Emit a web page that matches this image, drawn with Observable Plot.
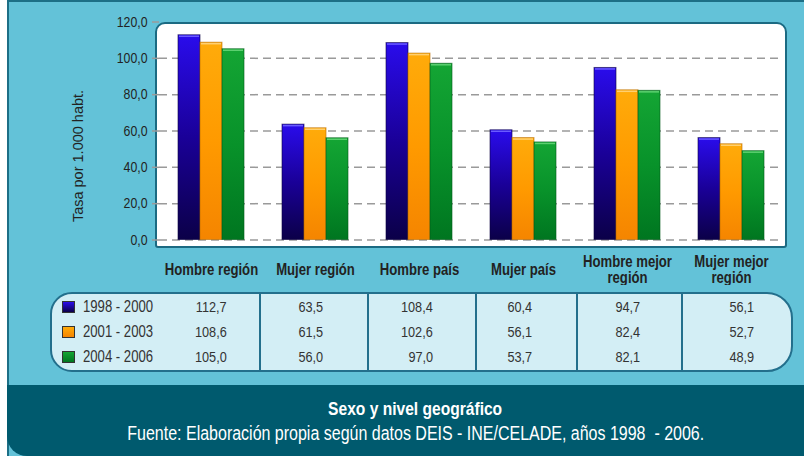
<!DOCTYPE html>
<html><head><meta charset="utf-8">
<script src="https://cdn.jsdelivr.net/npm/d3@7"></script>
<script src="https://cdn.jsdelivr.net/npm/@observablehq/plot@0.6"></script>
<style>
html,body{margin:0;padding:0;background:#fff;}
#wrap{position:relative;width:804px;height:456px;overflow:hidden;font-family:"Liberation Sans",Arial,sans-serif;color:#222;}
#panel{position:absolute;left:7px;top:0;width:797px;height:456px;background:#63c2d8;border-left:2px solid #1d6f86;border-top:2px solid #1d6f86;box-sizing:border-box;}
#box{position:absolute;left:155px;top:22px;width:632px;height:226px;background:#fff;border:2px solid #1b6a82;border-radius:10px 10px 3px 3px;box-sizing:border-box;}
#chart{position:absolute;left:0;top:0;}
#ylab{position:absolute;left:78px;top:156px;transform:translate(-50%,-50%) rotate(-90deg);font-size:14.5px;color:#222;white-space:nowrap;}
#tbl{position:absolute;left:50px;top:292px;width:743px;height:80px;border:2px solid #236f8c;border-radius:22px 26px 26px 22px;background:#d3eef5;box-sizing:border-box;overflow:hidden;}
#tbl table{width:100%;height:100%;border-collapse:collapse;table-layout:fixed;font-size:15.5px;color:#333;}
#tbl td{padding:0;text-align:right;white-space:nowrap;}
#tbl td.sep{border-left:2px solid #236f8c;}
#tbl td.leg{text-align:left;padding-left:10px;}
.sw{display:inline-block;width:11px;height:10px;border:1px solid #333;vertical-align:-1px;margin-right:8px;}
.nar{display:inline-block;transform:scaleX(0.82);}
.nr{transform-origin:right center;}
.nl{transform-origin:left center;}
.nc{transform-origin:center center;}
#footer{position:absolute;left:7px;top:385px;width:797px;height:71px;background:#005a6e;border-bottom-left-radius:20px;color:#fff;text-align:center;}
#ftitle{position:absolute;left:10px;width:797px;top:13px;font-size:19px;font-weight:bold;line-height:22px;}
#fsrc{position:absolute;left:10px;width:797px;top:37px;font-size:19.5px;line-height:22px;white-space:pre;}
</style></head>
<body>
<div id="wrap">
  <div id="panel"></div>
  <div id="box"></div>
  <div id="chart"></div>
  <div id="ylab"></div>
  <div id="tbl"></div>
  <div id="footer"><div id="ftitle"></div><div id="fsrc"></div></div>
</div>
<script>
const categories = ["Hombre región","Mujer región","Hombre país","Mujer país","Hombre mejor región","Mujer mejor región"];
const categoryLabels = ["Hombre región","Mujer región","Hombre país","Mujer país","Hombre mejor\nregión","Mujer mejor\nregión"];
const periods = ["1998 - 2000","2001 - 2003","2004 - 2006"];
const v1998_2000 = [112.7,63.5,108.4,60.4,94.7,56.1];
const v2001_2003 = [108.6,61.5,102.6,56.1,82.4,52.7];
const v2004_2006 = [105.0,56.0,97.0,53.7,82.1,48.9];
const yTicks = [0,20,40,60,80,100,120];
const gridTicks = [0,20,40,60,80,100];
const yTitle = "Tasa por 1.000 habt.";
const chartTitle = "Sexo y nivel geográfico";
const source = "Fuente: Elaboración propia según datos DEIS - INE/CELADE, años 1998  - 2006.";

const series = [v1998_2000, v2001_2003, v2004_2006];
const gradIds = ["gB","gO","gG"];
const gradStops = [["#2a0cec","#1a0098","#0b0048"],["#ffab0a","#ff9a00","#f58500"],["#14a534","#08922a","#007620"]];
const edgeColors = ["#0a0040","#b86a00","#005c18"];
const topColors = ["#6a5cff","#ffd070","#5cd070"];

const rows = categories.flatMap((c,i)=>periods.map((p,k)=>({cat:c, period:p, value:series[k][i], k})));
const fmt = v => v.toFixed(1).replace(".", ",");
const FONT = '"Liberation Sans",Arial,sans-serif';
const NARROW = 0.82;

const barMarks = periods.flatMap((p,k)=>{
  const data = rows.filter(r=>r.k===k);
  return [
    Plot.barY(data, {fx:"cat", x:"period", y:"value", fill:`url(#${gradIds[k]})`, stroke:edgeColors[k], strokeWidth:1, strokeOpacity:0.6}),
    Plot.tickY(data, {fx:"cat", x:"period", y:"value", stroke:topColors[k], strokeWidth:1.5, insetLeft:1, insetRight:1, dy:1})
  ];
});

const plot = Plot.plot({
  width:804, height:285,
  marginLeft:157, marginRight:20, marginTop:22, marginBottom:37,
  style:{background:"transparent", fontFamily:FONT, fontSize:"15px", color:"#222"},
  fx:{domain:categories, padding:0, axis:null},
  x:{domain:periods, axis:null, paddingInner:0, paddingOuter:0.79},
  y:{domain:[0,120], range:[239.5,21.5], axis:null},
  marks:[
    Plot.gridY({ticks:gridTicks, stroke:"#9a9a9a", strokeOpacity:1, strokeDasharray:"8,5", strokeWidth:1.5}),
    Plot.axisY({ticks:yTicks, tickSize:7, tickPadding:5, tickFormat:fmt, stroke:"#9a9a9a", strokeWidth:1.5, fill:"#222", label:null, fontSize:15}),
    ...barMarks,
    Plot.text(categories, {fx:d=>d, text:(d,i)=>categoryLabels[i], frameAnchor:"bottom", dy:21, lineAnchor:"middle", lineHeight:1.0, fontWeight:"bold", fontSize:16, fill:"#222"})
  ]
});

const svgEl = plot.tagName.toLowerCase()==="svg" ? plot : plot.querySelector("svg");
const svg = d3.select(svgEl);
const defs = svg.insert("defs", ":first-child");
gradIds.forEach((id,k)=>{
  const g = defs.append("linearGradient").attr("id",id).attr("x1",0).attr("y1",0).attr("x2",0).attr("y2",1);
  g.append("stop").attr("offset",0).attr("stop-color",gradStops[k][0]);
  g.append("stop").attr("offset",0.5).attr("stop-color",gradStops[k][1]);
  g.append("stop").attr("offset",1).attr("stop-color",gradStops[k][2]);
});
document.getElementById("chart").appendChild(plot);

// condense SVG text to mimic the narrow typeface of the original
svg.selectAll("text").each(function(){
  const tspans = this.querySelectorAll("tspan");
  const targets = tspans.length ? Array.from(tspans) : [this];
  targets.forEach(t=>{
    const L = t.getComputedTextLength();
    if (L > 0) { t.setAttribute("textLength", L*NARROW); t.setAttribute("lengthAdjust","spacingAndGlyphs"); }
  });
});

document.getElementById("ylab").textContent = yTitle;
document.getElementById("ftitle").innerHTML = `<span class="nar nc">${chartTitle}</span>`;
document.getElementById("fsrc").innerHTML = `<span class="nar nc">${source}</span>`;

// data table built from the same arrays
const colW = [118, 90, 108, 108, 101, 105, 113];
const padR = [0, 32, 44, 42, 44, 41, 41];
const swatchGrad = gradStops.map(s=>`linear-gradient(${s[0]},${s[2]})`);
let html = "<table><colgroup>" + colW.map(w=>`<col style="width:${w}px">`).join("") + "</colgroup>";
periods.forEach((p,k)=>{
  html += "<tr>";
  html += `<td class="leg"><span class="sw" style="background:${swatchGrad[k]}"></span><span class="nar nl" style="font-size:16px">${p}</span></td>`;
  series[k].forEach((v,i)=>{
    html += `<td class="${i>0?'sep':''}" style="padding-right:${padR[i+1]}px"><span class="nar nr">${fmt(v)}</span></td>`;
  });
  html += "</tr>";
});
html += "</table>";
document.getElementById("tbl").innerHTML = html;
</script>
</body></html>
